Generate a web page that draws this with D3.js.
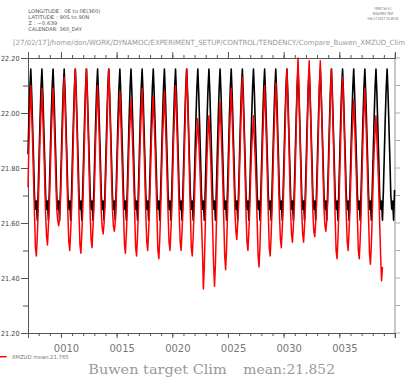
<!DOCTYPE html>
<html lang="en">
<head>
<meta charset="UTF-8">
<title>Compare_Buwen_XMZUD_Clim</title>
<style>
  body { margin: 0; background: #fff; }
  svg { display: block; font-family: "DejaVu Sans", sans-serif; }
</style>
</head>
<body>
<script src="https://d3js.org/d3.v7.min.js"></script>
<script>
var width = 419, height = 377;

// monthly values, first sample = Jan 0007
var climMonths = [21.85, 21.98, 22.09, 22.16, 22.07, 21.95, 21.83, 21.70, 21.65, 21.68, 21.61, 21.72];
var climCount = 396;

var xmzud = [
  21.73, 21.88, 22.00,
  22.10, 22.00, 21.89, 21.76, 21.63, 21.51, 21.48, 21.55, 21.65, 21.78, 21.91, 22.00,
  22.09, 21.99, 21.88, 21.76, 21.63, 21.55, 21.52, 21.59, 21.66, 21.78, 21.91, 22.00,
  22.09, 21.99, 21.88, 21.76, 21.65, 21.61, 21.59, 21.61, 21.68, 21.79, 21.92, 22.04,
  22.13, 22.03, 21.91, 21.77, 21.63, 21.53, 21.50, 21.57, 21.65, 21.78, 21.92, 22.07,
  22.16, 22.05, 21.92, 21.77, 21.63, 21.52, 21.49, 21.56, 21.65, 21.78, 21.92, 22.07,
  22.16, 22.05, 21.92, 21.77, 21.63, 21.54, 21.51, 21.58, 21.65, 21.78, 21.91, 22.01,
  22.10, 22.00, 21.89, 21.76, 21.64, 21.58, 21.56, 21.60, 21.67, 21.79, 21.92, 22.07,
  22.16, 22.05, 21.92, 21.77, 21.65, 21.59, 21.57, 21.60, 21.67, 21.79, 21.91, 21.99,
  22.08, 21.98, 21.87, 21.75, 21.63, 21.52, 21.49, 21.56, 21.65, 21.78, 21.90, 21.97,
  22.05, 21.96, 21.86, 21.75, 21.63, 21.51, 21.48, 21.55, 21.65, 21.78, 21.91, 22.00,
  22.09, 21.99, 21.88, 21.76, 21.63, 21.53, 21.50, 21.57, 21.65, 21.78, 21.90, 21.98,
  22.06, 21.97, 21.87, 21.75, 21.62, 21.50, 21.47, 21.54, 21.65, 21.78, 21.91, 21.99,
  22.08, 21.98, 21.87, 21.75, 21.63, 21.53, 21.50, 21.57, 21.65, 21.78, 21.91, 22.01,
  22.10, 22.00, 21.89, 21.76, 21.63, 21.53, 21.50, 21.57, 21.65, 21.78, 21.92, 22.07,
  22.16, 22.05, 21.92, 21.77, 21.63, 21.51, 21.48, 21.55, 21.64, 21.76, 21.86, 21.92,
  21.98, 21.90, 21.82, 21.72, 21.60, 21.50, 21.36, 21.44, 21.58, 21.72, 21.85, 21.93,
  21.99, 21.90, 21.82, 21.71, 21.58, 21.45, 21.37, 21.45, 21.59, 21.73, 21.86, 21.96,
  22.04, 21.95, 21.85, 21.74, 21.61, 21.48, 21.43, 21.51, 21.63, 21.77, 21.90, 22.00,
  22.09, 21.99, 21.88, 21.76, 21.64, 21.57, 21.54, 21.60, 21.67, 21.79, 21.92, 22.04,
  22.13, 22.03, 21.91, 21.77, 21.63, 21.53, 21.50, 21.57, 21.65, 21.77, 21.87, 21.93,
  21.99, 21.90, 21.82, 21.72, 21.60, 21.48, 21.44, 21.52, 21.64, 21.78, 21.91, 22.01,
  22.10, 22.00, 21.89, 21.76, 21.63, 21.51, 21.48, 21.55, 21.65, 21.78, 21.91, 22.02,
  22.11, 22.01, 21.90, 21.76, 21.63, 21.54, 21.51, 21.58, 21.66, 21.79, 21.92, 22.07,
  22.16, 22.05, 21.92, 21.77, 21.64, 21.56, 21.53, 21.59, 21.66, 21.79, 21.93, 22.10,
  22.20, 22.08, 21.94, 21.78, 21.64, 21.56, 21.53, 21.59, 21.66, 21.79, 21.93, 22.10,
  22.19, 22.07, 21.93, 21.78, 21.64, 21.57, 21.55, 21.60, 21.67, 21.79, 21.93, 22.10,
  22.19, 22.07, 21.93, 21.78, 21.65, 21.59, 21.57, 21.61, 21.68, 21.80, 21.93, 22.07,
  22.16, 22.05, 21.92, 21.77, 21.62, 21.50, 21.47, 21.54, 21.64, 21.78, 21.91, 22.04,
  22.13, 22.03, 21.91, 21.77, 21.63, 21.53, 21.50, 21.57, 21.65, 21.78, 21.90, 21.97,
  22.05, 21.96, 21.86, 21.75, 21.62, 21.50, 21.47, 21.54, 21.64, 21.78, 21.91, 22.00,
  22.09, 21.99, 21.88, 21.76, 21.62, 21.49, 21.45, 21.52, 21.63, 21.76, 21.86, 21.93,
  21.99, 21.90, 21.82, 21.72, 21.60, 21.48, 21.39, 21.44
];

var yMajor = [21.2, 21.4, 21.6, 21.8, 22.0, 22.2];
var yMinor = [21.3, 21.5, 21.7, 21.9, 22.1];
var yearTicks = d3.range(8, 41);
var yearMajor = [10, 15, 20, 25, 30, 35];

var headerLeft = ["LONGITUDE : 0E to 0E(360)", "LATITUDE : 90S to 90N", "Z : \u22120.639", "CALENDAR: 360_DAY"];
var headerRight = ["FERRET Ver. 6.1", "NOAA/PMEL TMAP", "Feb 27 2017 15:49:45"];
var title = "[27/02/17]/home/don/WORK/DYNAMOC/EXPERIMENT_SETUP/CONTROL/TENDENCY/Compare_Buwen_XMZUD_Clim";

var plotL = 28, plotR = 395, plotT = 58, plotB = 333;

var svg = d3.select("body").append("svg")
  .attr("width", width)
  .attr("height", height);

var x = d3.scaleLinear().domain([7 + 0.5 / 12, 40]).range([plotL, plotR]);
var y = d3.scaleLinear().domain([21.2, 22.2]).range([plotB, plotT]);

function monthTime(i) { return 7 + (i + 0.5) / 12; }

var climSeries = d3.range(climCount).map(function (i) { return climMonths[i % 12]; });

var line = d3.line()
  .x(function (d, i) { return x(monthTime(i)); })
  .y(function (d) { return y(d); });

// header texts
var hl = [[28.3, 12.5, 72], [28.3, 18.6, 61], [28.3, 24.6, 29], [28.3, 30.7, 53.5]];
headerLeft.forEach(function (t, i) {
  svg.append("text").attr("x", hl[i][0]).attr("y", hl[i][1])
    .attr("textLength", hl[i][2]).attr("lengthAdjust", "spacingAndGlyphs")
    .style("font-size", "5px").attr("fill", "#555").text(t);
});
var hr = [[383, 10.3, 17], [383, 15, 20.5], [383, 19.7, 31]];
headerRight.forEach(function (t, i) {
  svg.append("text").attr("x", hr[i][0]).attr("y", hr[i][1])
    .attr("text-anchor", "middle")
    .attr("textLength", hr[i][2]).attr("lengthAdjust", "spacingAndGlyphs")
    .style("font-size", "4.2px").attr("fill", "#666").text(t);
});

svg.append("text").attr("x", 13).attr("y", 44.5)
  .attr("textLength", 392).attr("lengthAdjust", "spacingAndGlyphs")
  .style("font-size", "7.1px").attr("fill", "#999").text(title);

// right axis (light grey)
svg.append("line").attr("x1", plotR).attr("x2", plotR).attr("y1", 53).attr("y2", 338)
  .attr("stroke", "#c8c8c8").attr("stroke-width", 2);
svg.append("g").selectAll("line").data(yMajor.concat(yMinor)).join("line")
  .attr("x1", plotR).attr("x2", plotR + 5)
  .attr("y1", function (d) { return y(d); }).attr("y2", function (d) { return y(d); })
  .attr("stroke", "#aaa");

// left axis
var gl = svg.append("g").attr("transform", "translate(" + plotL + ",0)")
  .call(d3.axisLeft(y).tickValues(yMajor).tickSize(7).tickPadding(1.5).tickFormat(d3.format(".2f")));
svg.append("g").attr("transform", "translate(" + plotL + ",0)")
  .call(d3.axisLeft(y).tickValues(yMinor).tickSize(5).tickFormat(""))
  .select(".domain").remove();
gl.selectAll("text").style("font-size", "7px").attr("fill", "#444").style("font-family", "DejaVu Sans")
  .attr("textLength", 18.5).attr("lengthAdjust", "spacingAndGlyphs");

// top axis
svg.append("g").attr("transform", "translate(0," + plotT + ")")
  .call(d3.axisTop(x).tickValues(yearMajor).tickSize(6).tickFormat(""));
svg.append("g").attr("transform", "translate(0," + plotT + ")")
  .call(d3.axisTop(x).tickValues(yearTicks).tickSize(3).tickFormat(""))
  .select(".domain").remove();

// bottom axis
svg.append("g").attr("transform", "translate(0," + plotB + ")")
  .call(d3.axisBottom(x).tickValues(yearMajor).tickSize(5).tickFormat(""));
svg.append("g").attr("transform", "translate(0," + plotB + ")")
  .call(d3.axisBottom(x).tickValues(yearTicks).tickSize(3).tickFormat(""))
  .select(".domain").remove();

svg.selectAll(".domain").attr("stroke", "#555");
svg.selectAll(".tick line").attr("stroke", "#555");

// year labels centred mid-year
svg.append("g").selectAll("text").data(yearMajor).join("text")
  .attr("x", function (d) { return x(d + 0.5); })
  .attr("y", 351.5)
  .attr("text-anchor", "middle")
  .style("font-size", "10px").attr("fill", "#777")
  .text(function (d) { return d3.format("04d")(d); });

// series
svg.append("path").datum(climSeries)
  .attr("fill", "none").attr("stroke", "#000").attr("stroke-width", 1.6)
  .attr("stroke-linejoin", "round").attr("d", line);
svg.append("path").datum(xmzud)
  .attr("fill", "none").attr("stroke", "#ff0000").attr("stroke-width", 1.5)
  .attr("stroke-linejoin", "round").attr("d", line);

// legend
svg.append("line").attr("x1", 0).attr("x2", 6.7).attr("y1", 356.7).attr("y2", 356.7)
  .attr("stroke", "#ff0000").attr("stroke-width", 1.5);
svg.append("text").attr("x", 11.7).attr("y", 358.8)
  .attr("textLength", 57).attr("lengthAdjust", "spacingAndGlyphs")
  .style("font-size", "5.5px").attr("fill", "#777").text("XMZUD mean:21.765");

// bottom title
svg.append("text").attr("x", 88.3).attr("y", 374)
  .attr("textLength", 138.4).attr("lengthAdjust", "spacingAndGlyphs")
  .style("font-family", "'DejaVu Serif', serif").style("font-size", "13.5px")
  .attr("fill", "#999").text("Buwen target Clim");
svg.append("text").attr("x", 243.3).attr("y", 374)
  .attr("textLength", 91.7).attr("lengthAdjust", "spacingAndGlyphs")
  .style("font-family", "'DejaVu Serif', serif").style("font-size", "13.5px")
  .attr("fill", "#999").text("mean:21.852");
</script>
</body>
</html>
